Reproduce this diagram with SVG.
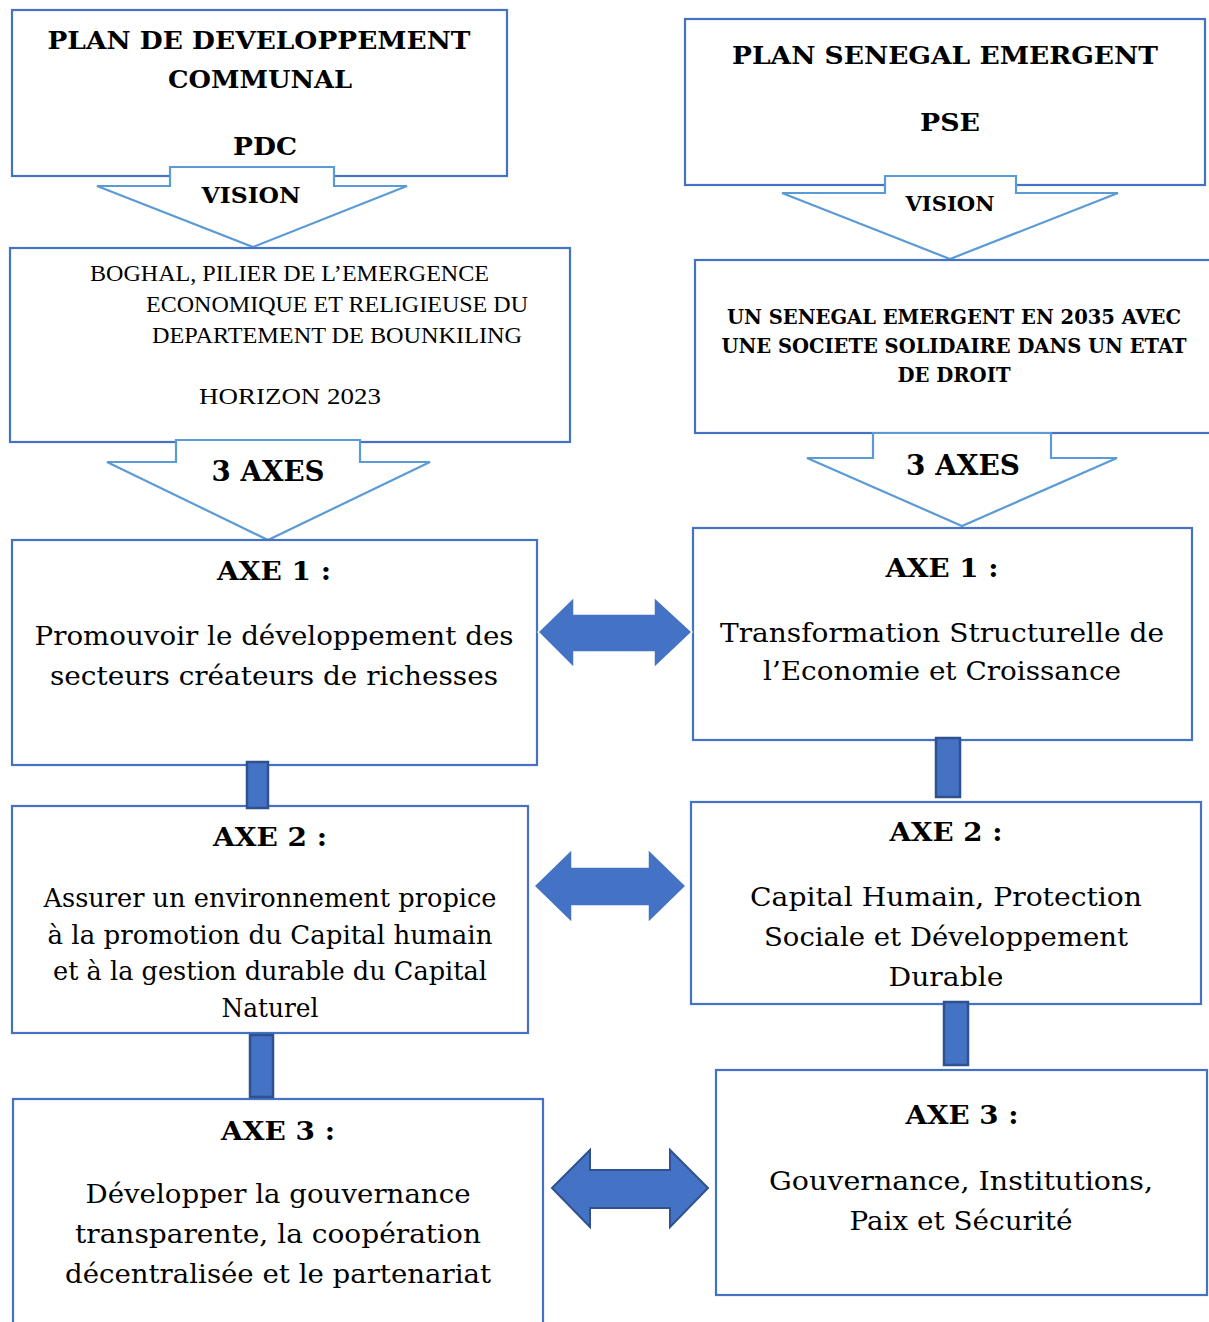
<svg xmlns="http://www.w3.org/2000/svg" width="1209" height="1322" viewBox="0 0 1209 1322">
<style>
.box{fill:#fff;stroke:#4472C4;stroke-width:2.2}
.blk{fill:#fff;stroke:#5B9BD5;stroke-width:2.2}
.con{fill:#4472C4;stroke:#2F528F;stroke-width:2.5}
.dbl{fill:#4472C4;stroke:#fff;stroke-width:1.5}
.dbl2{fill:#4472C4;stroke:#2F528F;stroke-width:2}
.t{font-family:"DejaVu Serif",serif;font-weight:bold;fill:#000;text-anchor:middle}
.b{font-family:"DejaVu Serif",serif;fill:#000;text-anchor:middle;font-size:26px}
.r{font-family:"Liberation Serif","Times New Roman",serif;fill:#000;font-size:24px}
</style>
<rect width="1209" height="1322" fill="#fff"/>

<g id="pdc">
<rect class="box" x="12" y="10" width="495" height="166"/>
<text class="t" font-size="25" x="259" y="49" textLength="423" lengthAdjust="spacingAndGlyphs">PLAN DE DEVELOPPEMENT</text>
<text class="t" font-size="25" x="260" y="88" textLength="184" lengthAdjust="spacingAndGlyphs">COMMUNAL</text>
<text class="t" font-size="25" x="265" y="155" textLength="64" lengthAdjust="spacingAndGlyphs">PDC</text>
</g>

<g id="vision-left">
<polygon class="blk" points="170,167 334,167 334,186 407,186 253,247 97,186 170,186"/>
<text class="t" font-size="23" x="251" y="203" textLength="99" lengthAdjust="spacingAndGlyphs">VISION</text>
</g>

<g id="boghal">
<rect class="box" x="10" y="248" width="560" height="194"/>
<text class="r" x="90" y="281" textLength="399" lengthAdjust="spacingAndGlyphs">BOGHAL, PILIER DE L’EMERGENCE</text>
<text class="r" x="146" y="312" textLength="382" lengthAdjust="spacingAndGlyphs">ECONOMIQUE ET RELIGIEUSE DU</text>
<text class="r" x="152" y="343" textLength="370" lengthAdjust="spacingAndGlyphs">DEPARTEMENT DE BOUNKILING</text>
<text class="r" x="199" y="404" textLength="182" lengthAdjust="spacingAndGlyphs">HORIZON 2023</text>
</g>

<g id="axes-left">
<polygon class="blk" points="176,440 360,440 360,462 430,462 268,540 107,462 176,462"/>
<text class="t" font-size="27" x="268" y="481" textLength="113" lengthAdjust="spacingAndGlyphs">3 AXES</text>
</g>

<g id="pdc-axe1">
<rect class="box" x="12" y="540" width="525" height="225"/>
<text class="t" font-size="26" x="274" y="580" textLength="114" lengthAdjust="spacingAndGlyphs">AXE 1 :</text>
<text class="b" x="274" y="645" textLength="479" lengthAdjust="spacingAndGlyphs">Promouvoir le développement des</text>
<text class="b" x="274" y="685" textLength="448" lengthAdjust="spacingAndGlyphs">secteurs créateurs de richesses</text>
</g>

<g id="pdc-axe2">
<rect class="box" x="12" y="806" width="516" height="227"/>
<text class="t" font-size="26" x="270" y="846" textLength="114" lengthAdjust="spacingAndGlyphs">AXE 2 :</text>
<text class="b" x="270" y="907" textLength="453" lengthAdjust="spacingAndGlyphs">Assurer un environnement propice</text>
<text class="b" x="270" y="944" textLength="445" lengthAdjust="spacingAndGlyphs">à la promotion du Capital humain</text>
<text class="b" x="270" y="980" textLength="434" lengthAdjust="spacingAndGlyphs">et à la gestion durable du Capital</text>
<text class="b" x="270" y="1017" textLength="97" lengthAdjust="spacingAndGlyphs">Naturel</text>
</g>

<g id="pdc-axe3">
<rect class="box" x="13" y="1099" width="530" height="240"/>
<text class="t" font-size="26" x="278" y="1140" textLength="114" lengthAdjust="spacingAndGlyphs">AXE 3 :</text>
<text class="b" x="278" y="1203" textLength="385" lengthAdjust="spacingAndGlyphs">Développer la gouvernance</text>
<text class="b" x="278" y="1243" textLength="406" lengthAdjust="spacingAndGlyphs">transparente, la coopération</text>
<text class="b" x="278" y="1283" textLength="426" lengthAdjust="spacingAndGlyphs">décentralisée et le partenariat</text>
</g>

<g id="pse">
<rect class="box" x="685" y="19" width="520" height="166"/>
<text class="t" font-size="25" x="945" y="64" textLength="426" lengthAdjust="spacingAndGlyphs">PLAN SENEGAL EMERGENT</text>
<text class="t" font-size="25" x="950" y="131" textLength="60" lengthAdjust="spacingAndGlyphs">PSE</text>
</g>

<g id="vision-right">
<polygon class="blk" points="885,176 1016,176 1016,193 1118,193 950,259 782,193 885,193"/>
<text class="t" font-size="21" x="950" y="211" textLength="89" lengthAdjust="spacingAndGlyphs">VISION</text>
</g>

<g id="pse-vision">
<rect class="box" x="695" y="260" width="520" height="173"/>
<text class="t" font-size="20" x="954" y="324" textLength="454" lengthAdjust="spacingAndGlyphs">UN SENEGAL EMERGENT EN 2035 AVEC</text>
<text class="t" font-size="20" x="954" y="353" textLength="465" lengthAdjust="spacingAndGlyphs">UNE SOCIETE SOLIDAIRE DANS UN ETAT</text>
<text class="t" font-size="20" x="954" y="382" textLength="113" lengthAdjust="spacingAndGlyphs">DE DROIT</text>
</g>

<g id="axes-right">
<polygon class="blk" points="873,433 1051,433 1051,458 1117,458 962,526 807,458 873,458"/>
<text class="t" font-size="27" x="963" y="475" textLength="114" lengthAdjust="spacingAndGlyphs">3 AXES</text>
</g>

<g id="pse-axe1">
<rect class="box" x="693" y="528" width="499" height="212"/>
<text class="t" font-size="26" x="942" y="577" textLength="113" lengthAdjust="spacingAndGlyphs">AXE 1 :</text>
<text class="b" x="942" y="642" textLength="444" lengthAdjust="spacingAndGlyphs">Transformation Structurelle de</text>
<text class="b" x="942" y="680" textLength="358" lengthAdjust="spacingAndGlyphs">l’Economie et Croissance</text>
</g>

<g id="pse-axe2">
<rect class="box" x="691" y="802" width="510" height="202"/>
<text class="t" font-size="26" x="946" y="841" textLength="113" lengthAdjust="spacingAndGlyphs">AXE 2 :</text>
<text class="b" x="946" y="906" textLength="392" lengthAdjust="spacingAndGlyphs">Capital Humain, Protection</text>
<text class="b" x="946" y="946" textLength="364" lengthAdjust="spacingAndGlyphs">Sociale et Développement</text>
<text class="b" x="946" y="986" textLength="115" lengthAdjust="spacingAndGlyphs">Durable</text>
</g>

<g id="pse-axe3">
<rect class="box" x="716" y="1070" width="491" height="225"/>
<text class="t" font-size="26" x="962" y="1124" textLength="113" lengthAdjust="spacingAndGlyphs">AXE 3 :</text>
<text class="b" x="961" y="1190" textLength="384" lengthAdjust="spacingAndGlyphs">Gouvernance, Institutions,</text>
<text class="b" x="961" y="1230" textLength="223" lengthAdjust="spacingAndGlyphs">Paix et Sécurité</text>
</g>

<g id="connectors">
<rect class="con" x="247" y="762" width="21" height="46"/>
<rect class="con" x="250" y="1035" width="23" height="62"/>
<rect class="con" x="936" y="738" width="24" height="59"/>
<rect class="con" x="944" y="1002" width="24" height="63"/>
<path class="dbl" d="M538,632 L574,597 L574,614 L654,614 L654,597 L692,632 L654,668 L654,652 L574,652 L574,668 Z"/>
<path class="dbl" d="M534,886 L572,849 L572,867 L648,867 L648,849 L686,886 L648,923 L648,906 L572,906 L572,923 Z"/>
<path class="dbl2" d="M552,1188 L590,1150 L590,1170 L670,1170 L670,1150 L708,1188 L670,1227 L670,1208 L590,1208 L590,1227 Z"/>
</g>
</svg>
